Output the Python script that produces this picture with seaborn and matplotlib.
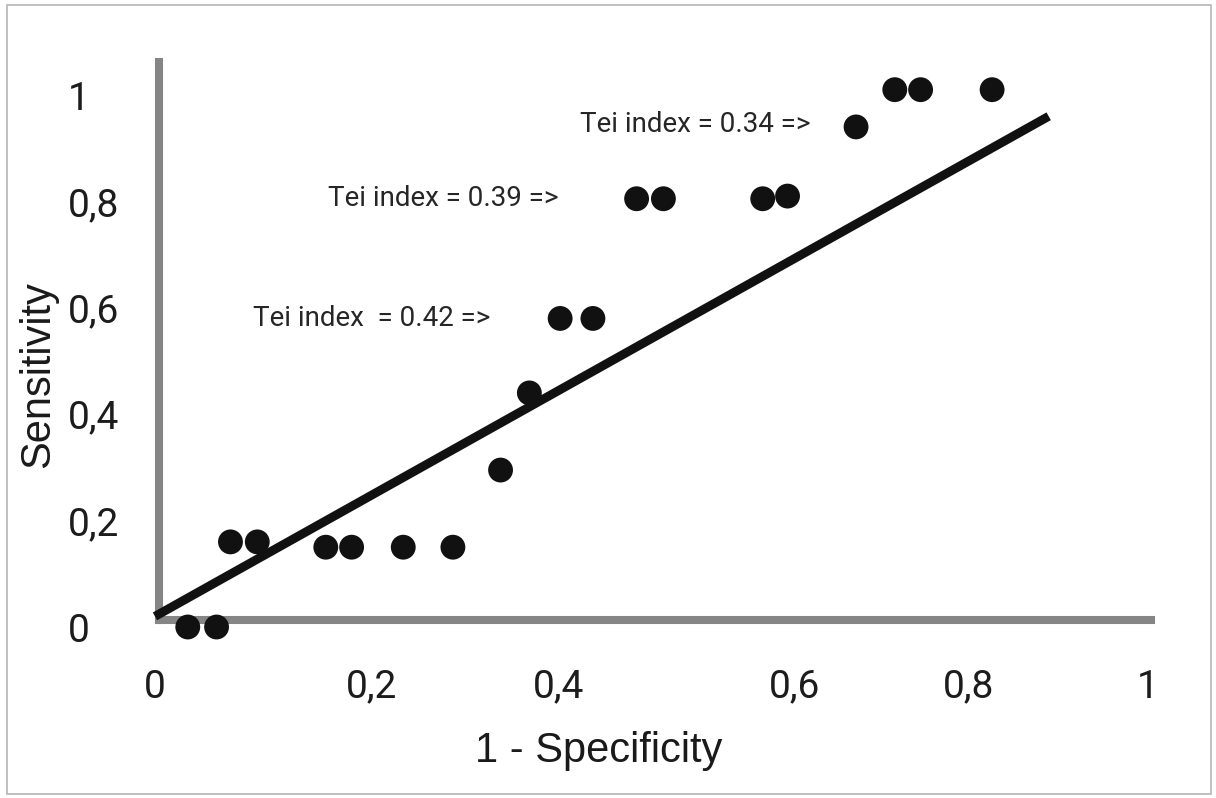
import matplotlib
matplotlib.use("Agg")
import matplotlib.pyplot as plt
from matplotlib.patches import Rectangle
import seaborn as sns
import pandas as pd

# ---- data ----
one_minus_specificity = [0.033, 0.062, 0.076, 0.103, 0.172, 0.198, 0.250, 0.300,
                         0.348, 0.377, 0.408, 0.441, 0.485, 0.512, 0.612, 0.637,
                         0.706, 0.745, 0.771, 0.843]
sensitivity = [0.0, 0.0, 0.16, 0.16, 0.15, 0.15, 0.15, 0.15,
               0.295, 0.44, 0.58, 0.58, 0.805, 0.805, 0.805, 0.81,
               0.94, 1.01, 1.01, 1.01]
trend_x = [0.0, 0.90]
trend_y = [0.02, 0.96]

xtick_pos = [0.0, 0.2185, 0.406, 0.6445, 0.819, 1.0]
xtick_labels = ["0", "0,2", "0,4", "0,6", "0,8", "1"]
ytick_pos = [0.0, 0.2, 0.4, 0.6, 0.8, 1.0]
ytick_labels = ["0", "0,2", "0,4", "0,6", "0,8", "1"]

annot_text = ["Tei index = 0.34 =>", "Tei index = 0.39 =>", "Tei index  = 0.42 =>"]
annot_x = [0.428, 0.174, 0.0987]
annot_y = [0.945, 0.806, 0.579]

df = pd.DataFrame({"fpr": one_minus_specificity, "tpr": sensitivity})

# ---- style ----
sns.set_theme(style="white")
plt.rcParams["font.family"] = ["Roboto", "DejaVu Sans"]

W, H = 1216, 798
fig = plt.figure(figsize=(W / 100, H / 100), dpi=100)

xlim = (-0.1, 1.05)
ylim = (-0.05, 1.12)
# pixel mapping: x px = 155 + 993*x ; y px (from top) = 627 - 532*y
left_px = 155 + 993 * xlim[0]
right_px = 155 + 993 * xlim[1]
bottom_px = 627 - 532 * ylim[0]
top_px = 627 - 532 * ylim[1]
ax = fig.add_axes([left_px / W, 1 - bottom_px / H,
                   (right_px - left_px) / W, (bottom_px - top_px) / H])
ax.set_xlim(*xlim)
ax.set_ylim(*ylim)

sns.lineplot(x=trend_x, y=trend_y, ax=ax, color="#111111", linewidth=6.4,
             solid_capstyle="butt", zorder=3)
sns.scatterplot(data=df, x="fpr", y="tpr", ax=ax, color="#111111", s=320,
                edgecolor="none", zorder=4)

# axes drawn as thick gray spines
spine_col = "#858585"
for side in ["top", "right"]:
    ax.spines[side].set_visible(False)
ax.spines["left"].set_position(("data", 0.004))
ax.spines["bottom"].set_position(("data", 0.013))
ax.spines["left"].set_bounds(0.013, 1.062)
ax.spines["bottom"].set_bounds(0.004, 1.003)
for side in ["left", "bottom"]:
    ax.spines[side].set_color(spine_col)
    ax.spines[side].set_linewidth(5.8)

ax.set_xticks(xtick_pos)
ax.set_xticklabels(xtick_labels)
ax.set_yticks(ytick_pos)
ax.set_yticklabels(ytick_labels)
ax.tick_params(axis="x", length=0, pad=35, labelsize=28, labelcolor="#1c1c1c")
ax.tick_params(axis="y", length=0, pad=65.5, labelsize=28, labelcolor="#1c1c1c")
for lab in ax.get_yticklabels():
    lab.set_horizontalalignment("left")

ax.set_xlabel("1 - Specificity", fontsize=30, family=["Liberation Sans", "DejaVu Sans"],
              color="#1a1a1a")
ax.set_ylabel("Sensitivity", fontsize=30, family=["Liberation Sans", "DejaVu Sans"],
              color="#1a1a1a")
ax.xaxis.set_label_coords((599 - left_px) / (right_px - left_px),
                          (bottom_px - 731) / (bottom_px - top_px))
ax.yaxis.set_label_coords((58 - left_px) / (right_px - left_px),
                          (bottom_px - 375) / (bottom_px - top_px))

for t, x, y in zip(annot_text, annot_x, annot_y):
    ax.text(x, y, t, ha="left", va="center", fontsize=20, color="#262626")

ax.grid(False)
ax.set_facecolor("white")

# thin frame around the picture
fig.patches.append(Rectangle((7 / W, 1 - 794 / H), (1211 - 7) / W, (794 - 5) / H,
                             transform=fig.transFigure, fill=False,
                             edgecolor="#b5b5b5", linewidth=1.2))

fig.savefig("out.png", dpi=100, facecolor="white")
